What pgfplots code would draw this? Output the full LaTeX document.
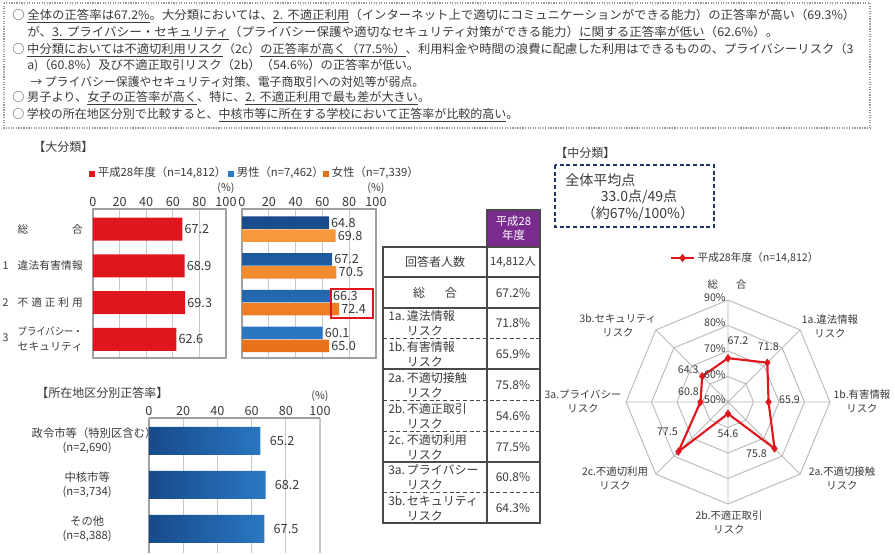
\documentclass[border=0pt]{standalone}
\usepackage{pgfplots}
\pgfplotsset{compat=1.18}
\usepackage{pgfplotstable}
\usepgfplotslibrary{polar}
\usepackage{graphicx}
\usepackage{fontspec}
\setmainfont{Noto Sans CJK JP}

\definecolor{txt}{HTML}{3A3A3A}
\definecolor{rbar}{HTML}{E0161D}
\definecolor{bdark}{HTML}{174A8A}
\definecolor{blight}{HTML}{2B78C4}
\definecolor{odark}{HTML}{E86F18}
\definecolor{olight}{HTML}{F89A3E}
\definecolor{gframe}{HTML}{A0A0A0}
\definecolor{ggrid}{HTML}{C8C8C8}
\definecolor{purp}{HTML}{7A2C8E}
\definecolor{navy}{HTML}{1F3468}
\definecolor{tline}{HTML}{4A4A4A}

% 1 px of the reference
\newdimen\pxu \pxu=0.75pt

\newcommand\lbl[2]{\makebox[11.25pt][l]{#1}\makebox[48.75pt][s]{#2}}
\newcommand\trow[4]{%
  \node[anchor=west, inner sep=0pt, align=left, font=\fontsize{9}{11.25}\selectfont] at (388*\pxu,-#1*\pxu) {\makebox[14pt][l]{#2}#3\\\makebox[14pt][l]{}リスク};
  \node[font=\fontsize{9}{11}\selectfont] at (513*\pxu,-#1*\pxu) {#4};}

\pgfplotsset{
  barbase/.style={
    scale only axis, xbar, xmin=0, xmax=100,
    y dir=reverse,
    xtick={0,20,...,100}, xticklabel pos=upper,
    major tick length=0pt,
    xmajorgrids, major grid style={ggrid, line width=0.8pt},
    axis line style={gframe, line width=0.8pt},
    tick label style={font=\fontsize{9.5}{10}\selectfont, text=txt},
    xticklabel style={inner sep=1.5pt},
    /pgf/number format/assume math mode=true,
    nodes near coords={\pgfmathprintnumber[fixed,fixed zerofill,precision=1]{\pgfplotspointmeta}},
    every node near coord/.append style={font=\fontsize{9.5}{10}\selectfont, text=txt, inner sep=1.5pt},
    clip=false,
  }
}

\pgfplotstableread{
a v dx dy
90 67.2 10 17
45 71.8 1 16
0 65.9 21 2
315 75.8 -18 -5
270 54.6 0 -20
225 77.5 -11 20
180 60.8 -12 10
135 64.3 -14 7
}\radar

\begin{document}
\begin{tikzpicture}[every node/.append style={text=txt}]
\useasboundingbox (0,0) rectangle (895*\pxu,-555*\pxu);

% summary box
\draw[gray!80, densely dotted, line width=0.9pt] (4*\pxu,-3*\pxu) rectangle (870*\pxu,-128*\pxu);
\begin{scope}[every node/.append style={anchor=west, inner sep=0pt, font=\fontsize{9}{11}\selectfont}]
\node at (12*\pxu,-16*\pxu) {\resizebox{843\pxu}{\height}{○\hspace{2pt}\underline{全体の正答率は67.2\%}。大分類においては、\underline{2.\hspace{3pt}不適正利用}（インターネット上で適切にコミュニケーションができる能力）の正答率が高い（69.3\%）}};
\node at (27*\pxu,-33*\pxu) {\resizebox{751\pxu}{\height}{が、\underline{3.\hspace{3pt}プライバシー・セキュリティ}（プライバシー保護や適切なセキュリティ対策ができる能力）\underline{に関する正答率が低い}（62.6\%）。}};
\node at (12*\pxu,-50*\pxu) {\resizebox{841\pxu}{\height}{○\hspace{2pt}\underline{中分類においては不適切利用リスク}（2c）\underline{の正答率が高く（77.5\%）}、利用料金や時間の浪費に配慮した利用はできるものの、プライバシーリスク（3}};
\node at (27*\pxu,-66*\pxu) {\resizebox{392\pxu}{\height}{a)（60.8\%）及び不適正取引リスク（2b）（54.6\%）の正答率が低い。}};
\node at (30*\pxu,-82*\pxu) {\resizebox{394\pxu}{\height}{→ プライバシー保護やセキュリティ対策、電子商取引への対処等が弱点。}};
\node at (12*\pxu,-98*\pxu) {\resizebox{418\pxu}{\height}{○\hspace{2pt}男子より、\underline{女子の正答率が高く}、特に、\underline{2.\hspace{3pt}不適正利用で最も差が大きい}。}};
\node at (12*\pxu,-115*\pxu) {\resizebox{506\pxu}{\height}{○\hspace{2pt}学校の所在地区分別で比較すると、\underline{中核市等に所在する学校において正答率が比較的高い}。}};
\end{scope}

% titles and legend
\node[anchor=west, inner sep=0pt, font=\fontsize{9}{10}\selectfont] at (33*\pxu,-147*\pxu) {【大分類】};
\node[anchor=west, inner sep=0pt, font=\fontsize{9}{10}\selectfont] at (36*\pxu,-393*\pxu) {【所在地区分別正答率】};
\node[anchor=west, inner sep=0pt, font=\fontsize{9}{10}\selectfont] at (555*\pxu,-153*\pxu) {【中分類】};
\begin{scope}[every node/.append style={anchor=west, inner sep=0pt, font=\fontsize{8.5}{10}\selectfont}]
\node at (89*\pxu,-173*\pxu) {\textcolor{rbar}{\rule{6\pxu}{6\pxu}}\hspace{2pt}平成28年度（n=14,812）};
\node at (228*\pxu,-173*\pxu) {\textcolor{blight}{\rule{6\pxu}{6\pxu}}\hspace{2pt}男性（n=7,462）};
\node at (323*\pxu,-173*\pxu) {\textcolor{odark}{\rule{6\pxu}{6\pxu}}\hspace{2pt}女性（n=7,339）};
\end{scope}

% total by major category
\begin{axis}[barbase, at={(93*\pxu,-209*\pxu)}, anchor=north west,
  width=133*\pxu, height=149*\pxu, ymin=-0.55, ymax=3.51, bar width=23*\pxu,
  ytick={0,1,2,3},
  yticklabels={
    {\lbl{}{総\hfill 合}},
    {\lbl{1}{違\hfill 法\hfill 有\hfill 害\hfill 情\hfill 報}},
    {\lbl{2}{不\hfill 適\hfill 正\hfill 利\hfill 用}},
    {\lbl{3}{\parbox{48.75pt}{\resizebox{48.75pt}{\height}{プライバシー・}\\\makebox[48.75pt][s]{セ\hfill キ\hfill ュ\hfill リ\hfill テ\hfill ィ}}}}},
  yticklabel style={anchor=east, inner sep=0pt, xshift=-10*\pxu, font=\fontsize{8}{11}\selectfont},
]
\addplot[fill=rbar, draw=none] coordinates {(67.2,0) (68.9,1) (69.3,2) (62.6,3)};
\node[yshift=21*\pxu, font=\fontsize{8}{10}\selectfont] at (axis description cs:1,1) {(\%)};
\end{axis}

% by gender
\begin{axis}[barbase, at={(242*\pxu,-209*\pxu)}, anchor=north west,
  width=134*\pxu, height=149*\pxu, ymin=-0.55, ymax=3.51, bar width=12.5*\pxu,
  ytick=\empty,
]
\addplot[bar shift=6.5*\pxu, draw=none, top color=bdark, bottom color=blight] coordinates {(64.8,0) (67.2,1) (66.3,2) (60.1,3)};
\addplot[bar shift=-6.5*\pxu, draw=none, top color=olight, bottom color=odark] coordinates {(69.8,0) (70.5,1) (72.4,2) (65.0,3)};
\node[yshift=21*\pxu, font=\fontsize{8}{10}\selectfont] at (axis description cs:1,1) {(\%)};
\end{axis}
\draw[rbar, line width=1.6pt] (331*\pxu,-289*\pxu) rectangle (373*\pxu,-318*\pxu);

% by school location
\begin{axis}[barbase, at={(149*\pxu,-418*\pxu)}, anchor=north west,
  width=171*\pxu, height=135*\pxu, ymin=-0.52, ymax=2.55, bar width=28*\pxu,
  axis x line*=top, axis y line*=left,
  ytick={0,1,2},
  yticklabels={{政令市等（特別区含む）\\(n=2,690)},{中核市等\\(n=3,734)},{その他\\(n=8,388)}},
  yticklabel style={text width=111*\pxu, align=center, anchor=east, inner sep=0pt, xshift=-6*\pxu, font=\fontsize{8.5}{10.5}\selectfont},
  every node near coord/.append style={xshift=7*\pxu},
]
\addplot[draw=none, left color=bdark, right color=blight] coordinates {(65.2,0) (68.2,1) (67.5,2)};
\node[yshift=22*\pxu, font=\fontsize{8}{10}\selectfont] at (axis description cs:1,1) {(\%)};
\end{axis}

% table
\fill[purp] (487*\pxu,-210*\pxu) rectangle (540*\pxu,-247*\pxu);
\draw[tline, line width=1.1pt] (487*\pxu,-210*\pxu) rectangle (540*\pxu,-247*\pxu);
\node[text=white, align=center, font=\fontsize{8.5}{10.5}\selectfont] at (513.5*\pxu,-228.5*\pxu) {平成28\\年度};
\draw[tline, line width=1.1pt] (383*\pxu,-247*\pxu) rectangle (540*\pxu,-523*\pxu);
\draw[tline, line width=1.1pt] (487*\pxu,-247*\pxu) -- (487*\pxu,-523*\pxu);
\foreach \yy in {277,308,369,462}
  \draw[tline, line width=1.1pt] (383*\pxu,-\yy*\pxu) -- (540*\pxu,-\yy*\pxu);
\foreach \yy in {338,400,431,492}
  \draw[tline, densely dashed, line width=0.6pt] (383*\pxu,-\yy*\pxu) -- (540*\pxu,-\yy*\pxu);
\node[font=\fontsize{9}{11}\selectfont] at (435*\pxu,-262*\pxu) {回答者人数};
\node[font=\fontsize{8.5}{11}\selectfont] at (513*\pxu,-262*\pxu) {14,812人};
\node[font=\fontsize{9}{11}\selectfont] at (435*\pxu,-293*\pxu) {総\hspace{20\pxu}合};
\node[font=\fontsize{9}{11}\selectfont] at (513*\pxu,-293*\pxu) {67.2\%};
\trow{323}{1a.}{違法情報}{71.8\%}
\trow{354}{1b.}{有害情報}{65.9\%}
\trow{385}{2a.}{不適切接触}{75.8\%}
\trow{416}{2b.}{不適正取引}{54.6\%}
\trow{447}{2c.}{不適切利用}{77.5\%}
\trow{477}{3a.}{プライバシー}{60.8\%}
\trow{508}{3b.}{セキュリティ}{64.3\%}

% average score box
\draw[navy, densely dashed, line width=1.3pt] (555*\pxu,-165*\pxu) rectangle (714*\pxu,-227*\pxu);
\node[anchor=west, inner sep=0pt, font=\fontsize{10.5}{12}\selectfont] at (565*\pxu,-180*\pxu) {全体平均点};
\node[inner sep=0pt, font=\fontsize{10.5}{12}\selectfont] at (639*\pxu,-197*\pxu) {33.0点/49点};
\node[inner sep=0pt, font=\fontsize{10.5}{12}\selectfont] at (638*\pxu,-214*\pxu) {（約67\%/100\%）};

% radar
\begin{polaraxis}[
  at={(728*\pxu,-402*\pxu)}, anchor=center,
  scale only axis, width=204*\pxu, height=204*\pxu,
  ymin=50, ymax=90,
  y coord trafo/.code={\pgfmathparse{#1-50}},
  y coord inv trafo/.code={\pgfmathparse{#1+50}},
  xtick={0,45,...,315}, xticklabels={}, ytick=\empty,
  xmajorgrids, ymajorgrids=false,
  major grid style={gray!55, line width=0.7pt},
  major tick length=0pt,
  axis line style={draw=none},
  clip=false,
  legend style={at={(0.215,1.206)}, anchor=west, draw=none, fill=none,
    font=\fontsize{8}{10}\selectfont, inner sep=0pt},
]
\foreach \r in {60,70,80,90}{
  \addplot[gray!55, line width=0.7pt, no markers, forget plot] coordinates
    {(0,\r) (45,\r) (90,\r) (135,\r) (180,\r) (225,\r) (270,\r) (315,\r) (360,\r)};
}
\addplot[rbar, line width=1.6pt, mark=diamond*, mark size=2.8pt,
  mark options={solid, line width=0.4pt},
  point meta=explicit,
  nodes near coords={\pgfmathprintnumber[fixed,fixed zerofill,precision=1,assume math mode=true]{\pgfplotspointmeta}},
  visualization depends on={\thisrow{dx} \as \ldx},
  visualization depends on={\thisrow{dy} \as \ldy},
  every node near coord/.append style={anchor=center, xshift=\ldx*\pxu, yshift=\ldy*\pxu,
    font=\fontsize{8}{10}\selectfont, text=txt},
] table[x=a, y=v, meta=v] {\radar} -- cycle;
\addlegendentry{平成28年度（n=14,812）}
\end{polaraxis}

% radar scale and category labels
\begin{scope}[every node/.append style={anchor=east, inner sep=0pt, font=\fontsize{8}{10}\selectfont}]
\node at (726*\pxu,-298*\pxu) {90\%};
\node at (726*\pxu,-323*\pxu) {80\%};
\node at (726*\pxu,-349*\pxu) {70\%};
\node at (726*\pxu,-375*\pxu) {60\%};
\node at (726*\pxu,-400*\pxu) {50\%};
\end{scope}
\begin{scope}[every node/.append style={align=center, inner sep=0pt, font=\fontsize{7.8}{10.5}\selectfont}]
\node at (727*\pxu,-285*\pxu) {総\hspace{18\pxu}合};
\node at (830*\pxu,-326*\pxu) {1a.違法情報\\リスク};
\node at (862*\pxu,-401*\pxu) {1b.有害情報\\リスク};
\node at (842*\pxu,-478*\pxu) {2a.不適切接触\\リスク};
\node at (729*\pxu,-522*\pxu) {2b.不適正取引\\リスク};
\node at (615*\pxu,-478*\pxu) {2c.不適切利用\\リスク};
\node at (583*\pxu,-401*\pxu) {3a.プライバシー\\リスク};
\node at (618*\pxu,-326*\pxu) {3b.セキュリティ\\リスク};
\end{scope}
\end{tikzpicture}
\end{document}
